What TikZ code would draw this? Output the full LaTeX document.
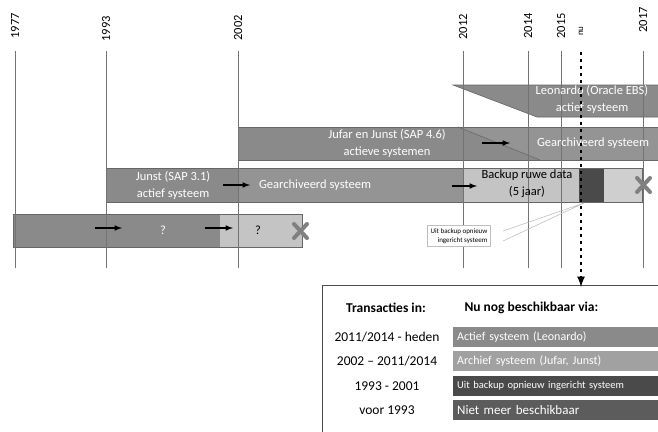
\documentclass[tikz,border=0pt]{standalone}
\usepackage{fontspec}
\setmainfont{Carlito}
\usetikzlibrary{arrows}

\definecolor{actief}{gray}{0.54}
\definecolor{archief}{gray}{0.58}
\definecolor{backup}{gray}{0.77}
\definecolor{herstel}{gray}{0.29}
\definecolor{rest}{gray}{0.81}
\definecolor{archleg}{gray}{0.63}
\definecolor{nietleg}{gray}{0.36}

\begin{document}
\begin{tikzpicture}[>=latex,x=1pt,y=-1pt,
  yearline/.style={color=black!55,line width=0.8pt},
  yearlabel/.style={rotate=90,font=\fontsize{12.5}{14}\selectfont},
  bar/.style={draw=black!60,line width=0.6pt},
  bartext/.style={text=white,align=center,font=\fontsize{12.5}{17}\selectfont},
  barpijl/.style={->,line width=1.5pt},
  kruis/.style={color=black!50,line width=4pt,line cap=round},
  legtext/.style={font=\fontsize{13.5}{15}\selectfont},
  legbar/.style={anchor=west,text=white,minimum height=20pt,text width=215pt,
    align=left,inner xsep=4pt,font=\fontsize{12}{14}\selectfont}]

\useasboundingbox (0,0) rectangle (658,431);
\clip (0,0) rectangle (658,431);

% balken
\fill[actief] (453,85)--(662,85)--(662,117)--(537,117)--cycle;
\draw[bar] (662,85)--(453,85)--(537,117)--(662,117);

\fill[actief] (238,127)--(458,127)--(540,160)--(238,160)--cycle;
\fill[archief] (458,127)--(662,127)--(662,160)--(540,160)--cycle;
\draw[bar] (662,127)--(238,127)--(238,160)--(662,160);
\draw[bar] (458,127)--(540,160);

\fill[actief] (106,168) rectangle (238,202);
\fill[archief] (238,168) rectangle (463,202);
\fill[backup] (463,168) rectangle (579,202);
\fill[herstel] (579,168) rectangle (604,202);
\fill[rest] (604,168) rectangle (642,202);
\draw[bar] (106,168) rectangle (642,202);

\fill[actief] (13,214) rectangle (220,247);
\fill[backup] (220,214) rectangle (302,247);
\draw[bar] (13,214) rectangle (302,247);

% jaartallen
\foreach \x/\jaar/\ty in {15/1977/26,106/1993/29,238/2002/28,463/2012/27,528/2014/26,561/2015/26,643/2017/20}{
  \draw[yearline] (\x,51)--(\x,268);
  \node[yearlabel] (j\jaar) at (\x,\ty) {\jaar};
}
\node[yearlabel,font=\fontsize{9}{10}\selectfont] (nu) at (581,31) {nu};

% teksten in de balken
\node[bartext] (leonardo) at (592,99) {Leonardo (Oracle EBS)\\actief systeem};
\node[bartext] (jufar) at (387,143) {Jufar en Junst (SAP 4.6)\\actieve systemen};
\node[bartext] (archief1) at (593,143) {Gearchiveerd systeem};
\node[bartext] (junst) at (173,185) {Junst (SAP 3.1)\\actief systeem};
\node[bartext] (archief2) at (315,185) {Gearchiveerd systeem};
\node[bartext,text=black] (backup) at (527,184) {Backup ruwe data\\(5 jaar)};
\node[bartext] (vraag1) at (163,230) {?};
\node[bartext,text=black] (vraag2) at (258,230) {?};

\draw[barpijl] (482,143)--(510,143);
\draw[barpijl] (223,185)--(250,185);
\draw[barpijl] (452,186)--(477,186);
\draw[barpijl] (95,228)--(122,228);
\draw[barpijl] (205,228)--(233,228);

% kruisjes
\draw[kruis] (637,178)--(650,192) (637,192)--(650,178);
\draw[kruis] (294,224)--(307,238) (294,238)--(307,224);

% callout
\draw[black!25,line width=0.6pt] (503,231)--(584,203) (503,241)--(584,203);
\node[draw=black!25,fill=white,align=right,inner sep=3pt,
  font=\fontsize{7}{9}\selectfont] (callout) at (459,236) {Uit backup opnieuw\\ingericht systeem};

% legenda
\draw[black!70,line width=0.8pt] (322,440)--(322,285)--(670,285);
\draw[->,dash pattern=on 3pt off 4pt,line width=2.5pt] (581,52)--(581,287);

\node[legtext,font=\bfseries\fontsize{13.5}{15}\selectfont] (kop1) at (386,308) {Transacties in:};
\node[legtext,font=\bfseries\fontsize{13.5}{15}\selectfont,anchor=west] (kop2) at (461,308) {Nu nog beschikbaar via:};

\node[legtext] (r1) at (387,337) {2011/2014 - heden};
\node[legtext] (r2) at (387,361) {2002 -- 2011/2014};
\node[legtext] (r3) at (387,386) {1993 - 2001};
\node[legtext] (r4) at (387,410) {voor 1993};

\node[legbar,fill=actief] (b1) at (453,337) {Actief systeem (Leonardo)};
\node[legbar,fill=archleg] (b2) at (453,361) {Archief systeem (Jufar, Junst)};
\node[legbar,fill=herstel,font=\fontsize{10.5}{12}\selectfont] (b3) at (453,386) {Uit backup opnieuw ingericht systeem};
\node[legbar,fill=nietleg,font=\fontsize{13}{14}\selectfont] (b4) at (453,410) {Niet meer beschikbaar};

\end{tikzpicture}
\end{document}
